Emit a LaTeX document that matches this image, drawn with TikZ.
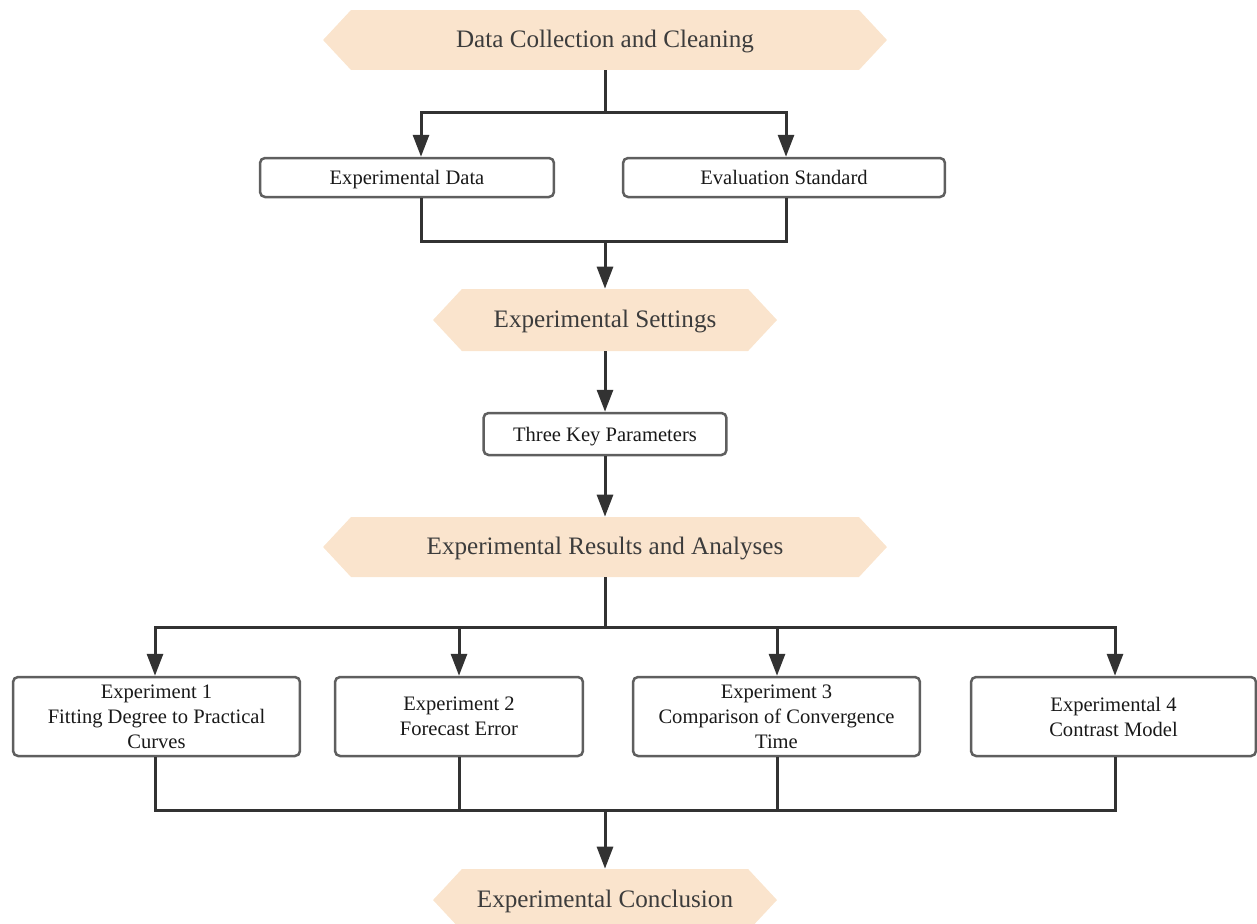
\documentclass[tikz,border=0pt]{standalone}
\usepackage{fontspec}
\setmainfont{Liberation Serif}
\usetikzlibrary{shapes.symbols,arrows.meta}
\definecolor{hexfill}{RGB}{250,228,205}
\definecolor{hextext}{RGB}{60,60,60}
\definecolor{linecol}{RGB}{50,50,50}
\definecolor{boxline}{RGB}{95,95,95}
\begin{document}
\begin{tikzpicture}[x=0.02cm,y=-0.02cm,
  hexa/.style={signal, signal to=west and east, signal pointer angle=94,
    fill=hexfill, draw=none, inner sep=0pt, minimum height=1.2cm,
    text height=12.1pt, text depth=3.1pt,
    text=hextext, font=\fontsize{14.3}{17}\selectfont},
  boxbase/.style={rectangle, rounded corners=0.1cm, draw=boxline, line width=0.05cm,
    fill=white, inner sep=0pt, text=black!90,
    font=\fontsize{11.7}{14.2}\selectfont},
  boxn/.style={boxbase, align=center},
  boxs/.style={boxbase, text height=10.9pt, text depth=2.6pt},
  conn/.style={draw=linecol, line width=0.06cm},
  arr/.style={conn, -{Triangle[width=0.32cm,length=0.44cm]}}]
\useasboundingbox (0,0) rectangle (1257,923);

% nodes
\node[hexa, minimum width=11.28cm] (h1) at (605,40) {Data Collection and Cleaning};
\node[boxs, minimum width=5.88cm, minimum height=0.78cm] (ed) at (407,177.5) {Experimental Data};
\node[boxs, minimum width=6.44cm, minimum height=0.78cm] (es) at (784,177.5) {Evaluation Standard};
\node[hexa, minimum width=6.88cm, minimum height=1.24cm] (h2) at (605,320) {Experimental Settings};
\node[boxs, minimum width=4.86cm, minimum height=0.84cm] (tk) at (605,434) {Three Key Parameters};
\node[hexa, minimum width=11.28cm] (h3) at (605,547) {Experimental Results and Analyses};
\node[boxn, minimum width=5.74cm, minimum height=1.58cm] (e1) at (156.5,716.5) {Experiment 1\\Fitting Degree to Practical\\Curves};
\node[boxn, minimum width=4.96cm, minimum height=1.58cm] (e2) at (459,716.5) {Experiment 2\\Forecast Error};
\node[boxn, minimum width=5.74cm, minimum height=1.58cm] (e3) at (776.5,716.5) {Experiment 3\\Comparison of Convergence\\Time};
\node[boxn, minimum width=5.70cm, minimum height=1.58cm] (e4) at (1113.5,716.5) {Experimental 4\\Contrast Model};
\node[hexa, minimum width=6.88cm, minimum height=1.24cm] (h4) at (605,900) {Experimental Conclusion};

% junction coordinates
\coordinate (j1) at (605,112);
\coordinate (a1) at (421,112);
\coordinate (a2) at (786,112);
\coordinate (b1) at (421,241);
\coordinate (b2) at (786,241);
\coordinate (j2) at (605,241);
\coordinate (j3) at (605,627);
\coordinate (c1) at (155,627);
\coordinate (c2) at (459,627);
\coordinate (c3) at (777,627);
\coordinate (c4) at (1115,627);
\coordinate (d1) at (155,810);
\coordinate (d4) at (1115,810);
\coordinate (j4) at (605,810);

% connectors
\draw[conn] (h1.south) -- (j1);
\draw[arr] (j1) -| (a1 |- ed.north);
\draw[arr] (j1) -| (a2 |- es.north);
\draw[conn] (a1 |- ed.south) -- (b1) -- (b2) -- (a2 |- es.south);
\draw[arr] (j2) -- (h2.north);
\draw[arr] (h2.south) -- (tk.north);
\draw[arr] (tk.south) -- (h3.north);
\draw[conn] (h3.south) -- (j3);
\draw[arr] (j3) -| (c1 |- e1.north);
\draw[arr] (j3) -| (c4 |- e4.north);
\draw[arr] (c2) -- (c2 |- e2.north);
\draw[arr] (c3) -- (c3 |- e3.north);
\draw[conn] (c1 |- e1.south) -- (d1) -- (d4) -- (c4 |- e4.south);
\draw[conn] (c2 |- e2.south) -- (c2 |- d1);
\draw[conn] (c3 |- e3.south) -- (c3 |- d1);
\draw[arr] (j4) -- (h4.north);
\end{tikzpicture}
\end{document}
